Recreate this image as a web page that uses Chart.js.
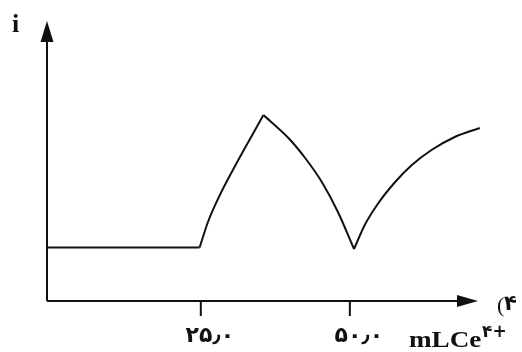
<!DOCTYPE html>
<html>
<head>
<meta charset="utf-8">
<script src="https://cdn.jsdelivr.net/npm/chart.js@4.4.1/dist/chart.umd.min.js"></script>
<style>
  html, body { margin: 0; padding: 0; background: #fff; }
  #wrap { width: 522px; height: 352px; position: relative; }
</style>
</head>
<body>
<div id="wrap"><canvas id="titration"></canvas></div>
<script>
// titration curve: current i vs volume of Ce4+ (mL)
const flatX  = [-0.8, 24.8];
const flatI  = [5.35, 5.35];
const rise1X = [24.8, 26.2, 28.2, 30.2, 32.4, 34.1, 35.5];
const rise1I = [5.35, 7.9, 10.6, 12.9, 15.3, 17.1, 18.6];
const fallX  = [35.5, 39.7, 42.5, 45.3, 48.0, 50.7];
const fallI  = [18.6, 16.3, 14.3, 11.9, 8.9, 5.2];
const rise2X = [50.7, 52.5, 54.8, 57.6, 60.4, 63.7, 67.6, 71.8];
const rise2I = [5.2, 7.6, 9.8, 11.9, 13.6, 15.1, 16.4, 17.3];

const tickValues = [25, 50];
const tickLabels = ['۲۵٫۰', '۵۰٫۰'];

const xMin = -0.8, xMax = 72, xArrow = 71.5;
const yMin = 0, yMax = 28, yArrow = 28;

function pts(xs, ys) {
    return xs.map((v, i) => ({ x: v, y: ys[i] }));
}

function segment(xs, ys) {
    return {
        data: pts(xs, ys),
        borderColor: '#111',
        borderWidth: 2,
        pointRadius: 0,
        cubicInterpolationMode: 'monotone',
        fill: false,
        clip: false
    };
}

const axesPlugin = {
    id: 'axesPlugin',
    afterDraw(chart) {
        const ctx = chart.ctx;
        const x = chart.scales.x, y = chart.scales.y;
        const ox = x.getPixelForValue(xMin);
        const oy = y.getPixelForValue(0);
        const ex = x.getPixelForValue(xArrow);
        const ey = y.getPixelForValue(yArrow);
        ctx.save();
        ctx.strokeStyle = '#111';
        ctx.fillStyle = '#111';
        ctx.lineWidth = 2;
        // axis lines
        ctx.beginPath();
        ctx.moveTo(ox, oy);
        ctx.lineTo(ex - 10, oy);
        ctx.moveTo(ox, oy);
        ctx.lineTo(ox, ey + 10);
        ctx.stroke();
        // arrow heads
        ctx.beginPath();
        ctx.moveTo(ex, oy);
        ctx.lineTo(ex - 21, oy - 6);
        ctx.lineTo(ex - 21, oy + 6);
        ctx.closePath();
        ctx.fill();
        ctx.beginPath();
        ctx.moveTo(ox, ey);
        ctx.lineTo(ox - 6.5, ey + 21);
        ctx.lineTo(ox + 6.5, ey + 21);
        ctx.closePath();
        ctx.fill();
        // ticks and labels
        ctx.font = 'bold 22px "DejaVu Sans"';
        ctx.textAlign = 'center';
        ctx.textBaseline = 'alphabetic';
        ctx.letterSpacing = '3px';
        tickValues.forEach((v, i) => {
            const px = x.getPixelForValue(v);
            ctx.beginPath();
            ctx.moveTo(px, oy);
            ctx.lineTo(px, oy + 15);
            ctx.stroke();
            ctx.fillText(tickLabels[i], px + 9, oy + 41);
        });
        ctx.letterSpacing = '0px';
        // axis titles
        ctx.textAlign = 'left';
        ctx.font = 'bold 26px "Liberation Serif"';
        ctx.fillText('i', 12, 32);
        ctx.save();
        ctx.translate(409, 347);
        ctx.scale(1.18, 1);
        ctx.font = 'bold 23px "Liberation Serif"';
        ctx.fillText('mLCe', 0, 0);
        ctx.restore();
        ctx.font = 'bold 17px "DejaVu Sans"';
        ctx.fillText('۴+', 482, 337);
        ctx.font = '22px "Liberation Serif"';
        ctx.fillText('(', 497, 312);
        ctx.font = 'bold 21px "DejaVu Sans"';
        ctx.fillText('۴', 504, 310);
        ctx.restore();
    }
};

new Chart(document.getElementById('titration').getContext('2d'), {
    type: 'line',
    data: {
        datasets: [
            segment(flatX, flatI),
            segment(rise1X, rise1I),
            segment(fallX, fallI),
            segment(rise2X, rise2I)
        ]
    },
    options: {
        responsive: true,
        maintainAspectRatio: false,
        animation: false,
        layout: { padding: { left: 47, right: 41, top: 21, bottom: 51 } },
        plugins: {
            legend: { display: false },
            tooltip: { enabled: false }
        },
        scales: {
            x: { type: 'linear', min: xMin, max: xMax, display: false },
            y: { type: 'linear', min: yMin, max: yMax, display: false }
        }
    },
    plugins: [axesPlugin]
});
</script>
</body>
</html>
